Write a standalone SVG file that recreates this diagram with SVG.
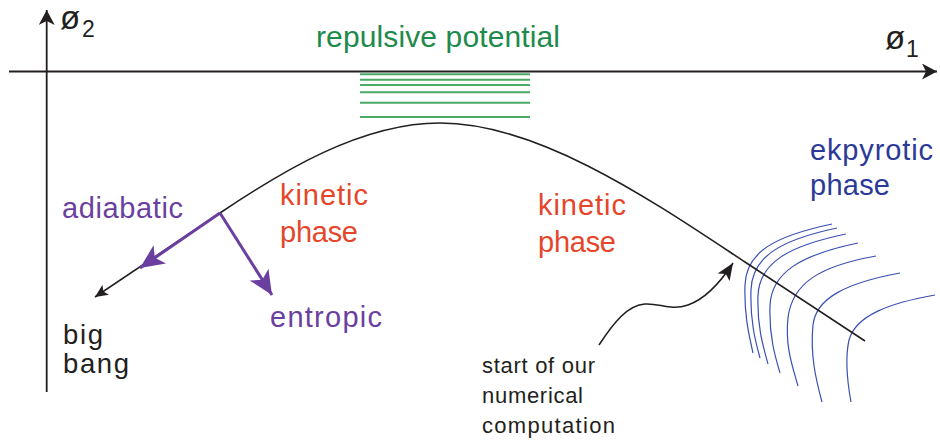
<svg xmlns="http://www.w3.org/2000/svg" width="940" height="440" viewBox="0 0 940 440">
<defs>
<style>
text{font-family:"Liberation Sans",Arial,sans-serif}
.lbl{font-size:29px}
.red{fill:#e5462a}
.pur{fill:#6b3fa0}
.blu{fill:#2b3a97}
.grn{fill:#1e8a4c}
.blk{fill:#231f20}
.axis{stroke:#231f20;stroke-width:1.8;fill:none}
.curve{stroke:#231f20;stroke-width:1.6;fill:none}
.pot{stroke:#4aab66;stroke-width:2}
.iso{stroke:#3a4fb0;stroke-width:1.2;fill:none}
.parr{stroke:#6b3fa0;stroke-width:3;fill:none}
</style>
<marker id="axh" markerWidth="16" markerHeight="16" refX="15" refY="8" orient="auto" markerUnits="userSpaceOnUse">
<path d="M0,0 L15,8 L0,16 L4,8 Z" fill="#231f20"/>
</marker>
<marker id="sh" markerWidth="14" markerHeight="12" refX="13" refY="6" orient="auto" markerUnits="userSpaceOnUse">
<path d="M0,0 L13,6 L0,12 L3,6 Z" fill="#231f20"/>
</marker>
<marker id="ph" markerWidth="26" markerHeight="22" refX="24" refY="11" orient="auto" markerUnits="userSpaceOnUse">
<path d="M0,0 L24,11 L0,22 L6,11 Z" fill="#6b3fa0"/>
</marker>
<marker id="bh" markerWidth="18" markerHeight="14" refX="17" refY="7" orient="auto" markerUnits="userSpaceOnUse">
<path d="M0,0 L17,7 L0,14 L4,7 Z" fill="#231f20"/>
</marker>
</defs>

<g id="axes">
<line class="axis" x1="9" y1="71.5" x2="937" y2="71.5" marker-end="url(#axh)"/>
<line class="axis" x1="46.7" y1="392" x2="46.7" y2="10" marker-end="url(#axh)"/>
<text class="blk" x="60" y="29" font-size="33">ø</text>
<text class="blk" x="82" y="36.5" font-size="23">2</text>
<text class="blk" x="885" y="48.5" font-size="33">ø</text>
<text class="blk" x="906" y="56.5" font-size="23">1</text>
</g>

<g id="repulsive-potential">
<line class="pot" x1="360" y1="74.3" x2="530" y2="74.3"/>
<line class="pot" x1="360" y1="79.7" x2="530" y2="79.7"/>
<line class="pot" x1="360" y1="85" x2="530" y2="85"/>
<line class="pot" x1="360" y1="92.3" x2="530" y2="92.3"/>
<line class="pot" x1="360" y1="102.7" x2="530" y2="102.7"/>
<line class="pot" x1="360" y1="117" x2="530" y2="117"/>
<text class="grn" x="316" y="47" font-size="30" textLength="244">repulsive potential</text>
</g>

<g id="ekpyrotic-phase">
<path class="iso" d="M832,224 C775,236 746,252 745,285 C744,315 749,335 753,353"/>
<path class="iso" d="M837,228 C780,240 752,257 751,290 C750,320 755,340 760,358"/>
<path class="iso" d="M846,234 C788,246 759,263 758,296 C757,326 763,346 768,364"/>
<path class="iso" d="M858,243 C800,255 771,273 770,306 C769,336 775,356 780,373"/>
<path class="iso" d="M876,256 C820,266 792,283 788,318 C785,345 792,365 798,386"/>
<path class="iso" d="M900,273 C846,283 816,298 813,325 C810,355 816,380 822,402"/>
<path class="iso" d="M935,295 C890,303 856,315 849,340 C845,358 847,380 851,402"/>
<text class="blu lbl" x="810" y="160" textLength="123">ekpyrotic</text>
<text class="blu lbl" x="810" y="195" textLength="80">phase</text>
</g>

<g id="connectors">
<path class="curve" d="M220,213 C280,172.7 360,123 440,123 C540,123 655,202.6 745,262 L865,341"/>
<line class="curve" x1="220" y1="213" x2="95" y2="297" marker-end="url(#sh)"/>
<line class="parr" x1="220" y1="213" x2="140" y2="268" marker-end="url(#ph)"/>
<line class="parr" x1="220" y1="213" x2="272" y2="295" marker-end="url(#ph)"/>
<path class="curve" d="M599,345 C614,322 628,305 645,304 C660,303 670,311 688,305 C705,299 720,283 733,263" marker-end="url(#bh)"/>
</g>

<g id="labels">
<text class="pur lbl" x="62" y="218" textLength="121">adiabatic</text>
<text class="pur lbl" x="270" y="327" textLength="112">entropic</text>
<text class="blk" x="63" y="344" font-size="27.5" textLength="40">big</text>
<text class="blk" x="63" y="372.5" font-size="27.5" textLength="66">bang</text>
<text class="red lbl" x="280" y="205" textLength="88">kinetic</text>
<text class="red lbl" x="280" y="241.5" textLength="78">phase</text>
<text class="red lbl" x="538" y="215" textLength="88">kinetic</text>
<text class="red lbl" x="538" y="251.5" textLength="78">phase</text>
<text class="blk" x="482" y="372.7" font-size="22" textLength="113">start of our</text>
<text class="blk" x="482" y="402.7" font-size="22" textLength="101">numerical</text>
<text class="blk" x="482" y="432.7" font-size="22" textLength="133">computation</text>
</g>
</svg>
